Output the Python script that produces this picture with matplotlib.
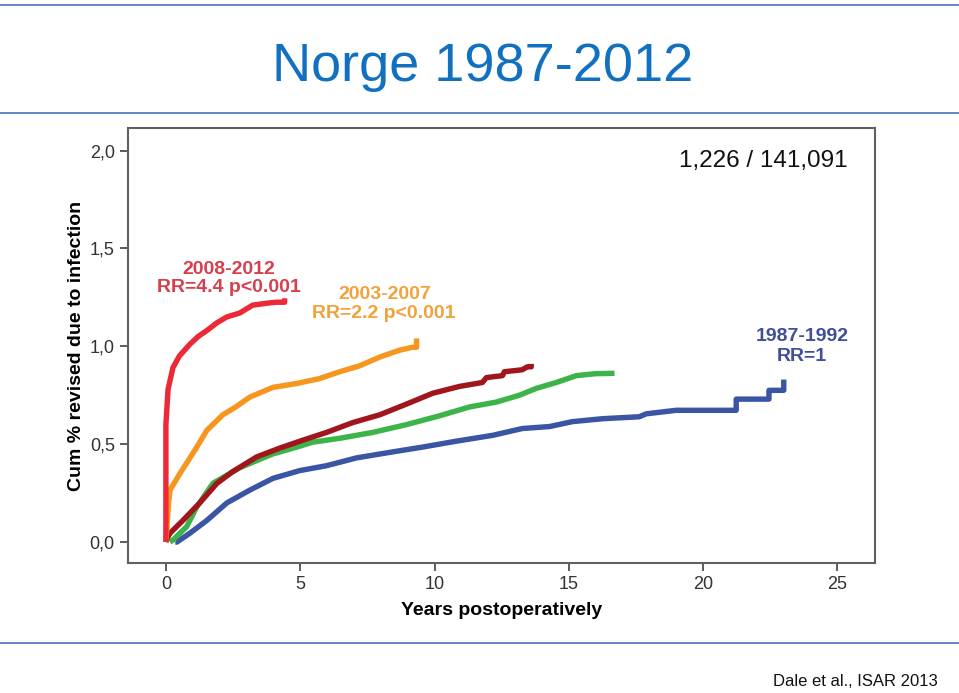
import matplotlib
matplotlib.use("agg")
import matplotlib.pyplot as plt
from matplotlib.lines import Line2D
from matplotlib.ticker import FuncFormatter

# Kaplan-Meier style curves (years, cum % revised)
red_x = [0, 0.0, 0.08, 0.26, 0.5, 0.89, 1.2, 1.52, 1.9, 2.27, 2.75, 3.23, 3.75, 4.1, 4.42, 4.42]
red_y = [0, 0.6, 0.78, 0.89, 0.95, 1.01, 1.05, 1.08, 1.12, 1.15, 1.17, 1.21, 1.22, 1.225, 1.225, 1.245]

orange_x = [0, 0.1, 0.15, 0.52, 0.85, 1.15, 1.52, 2.12, 2.6, 3.12, 3.98, 4.87, 5.72,
            6.47, 7.21, 7.96, 8.7, 9.18, 9.33, 9.33]
orange_y = [0, 0.2, 0.265, 0.35, 0.42, 0.485, 0.57, 0.65, 0.69, 0.74, 0.79, 0.81, 0.835,
            0.87, 0.90, 0.945, 0.98, 0.995, 0.995, 1.04]

darkred_x = [0, 0.05, 0.15, 0.63, 1.26, 1.9, 2.49, 3.38, 4.24, 5.09, 5.98, 6.95, 7.96,
             8.96, 9.93, 10.93, 11.78, 11.93, 12.53, 12.6, 13.27, 13.45, 13.6, 13.6]
darkred_y = [0, 0.02, 0.045, 0.11, 0.2, 0.3, 0.36, 0.435, 0.48, 0.52, 0.56, 0.61, 0.65,
             0.705, 0.76, 0.795, 0.815, 0.84, 0.85, 0.87, 0.88, 0.895, 0.895, 0.91]

green_x = [0.15, 0.26, 0.78, 1.15, 1.75, 2.75, 3.98, 4.87, 5.46, 6.47, 7.7, 8.96, 10.19,
           11.3, 12.3, 13.16, 13.79, 14.53, 15.28, 16.0, 16.7]
green_y = [0, 0.01, 0.08, 0.18, 0.3, 0.38, 0.45, 0.485, 0.51, 0.53, 0.56, 0.6, 0.645,
           0.69, 0.715, 0.75, 0.785, 0.815, 0.85, 0.86, 0.862]

blue_x = [0.35, 0.41, 0.89, 1.52, 2.27, 3.12, 3.98, 4.98, 5.98, 7.1, 8.33, 9.55, 10.8,
          12.16, 13.27, 14.28, 15.13, 16.25, 17.62, 17.88, 19.0, 21.23, 21.23, 22.45,
          22.45, 23.0, 23.0]
blue_y = [0, 0, 0.045, 0.11, 0.2, 0.265, 0.325, 0.365, 0.39, 0.43, 0.458, 0.485, 0.515,
          0.545, 0.58, 0.59, 0.615, 0.63, 0.64, 0.655, 0.673, 0.673, 0.73, 0.73,
          0.775, 0.775, 0.83]

y_ticks = [0, 0.5, 1.0, 1.5, 2.0]
x_ticks = [0, 5, 10, 15, 20, 25]

plt.rcParams['font.family'] = ['Liberation Sans', 'DejaVu Sans']

fig = plt.figure(figsize=(9.59, 6.93), dpi=100)
ax = fig.add_axes([0.1335, 0.1876, 0.779, 0.6277])

lw = 3.9
ax.plot(blue_x, blue_y, color='#3b55a5', lw=lw, solid_capstyle='butt')
ax.plot(green_x, green_y, color='#3cb44a', lw=lw, solid_capstyle='butt')
ax.plot(darkred_x, darkred_y, color='#a1161d', lw=lw, solid_capstyle='butt')
ax.plot(orange_x, orange_y, color='#f7961e', lw=lw, solid_capstyle='butt')
ax.plot(red_x, red_y, color='#ec2a37', lw=lw, solid_capstyle='butt')

ax.set_xlim(-1.41, 26.4)
ax.set_ylim(-0.107, 2.115)
ax.set_xticks(x_ticks)
ax.set_yticks(y_ticks)
ax.yaxis.set_major_formatter(FuncFormatter(lambda v, p: ('%.1f' % v).replace('.', ',')))
for s in ax.spines.values():
    s.set_color('#606060')
    s.set_linewidth(1.5)
ax.tick_params(direction='out', length=6, width=1.2, color='#404040',
               labelsize=13, labelcolor='#333333', top=False, right=False)

ax.set_xlabel('Years postoperatively', fontsize=14, fontweight='bold')
ax.set_ylabel('Cum % revised due to infection', fontsize=14, fontweight='bold')
ax.xaxis.set_label_coords(0.5, -0.09)
ax.yaxis.set_label_coords(-0.057, 0.5)

ax.text(2.34, 1.39, '2008-2012', color='#d63f4d', fontsize=14, fontweight='bold',
        ha='center', va='center')
ax.text(2.34, 1.298, 'RR=4.4 p<0.001', color='#d63f4d', fontsize=14, fontweight='bold',
        ha='center', va='center')
ax.text(8.14, 1.262, '2003-2007', color='#f2a23a', fontsize=14, fontweight='bold',
        ha='center', va='center')
ax.text(8.12, 1.166, 'RR=2.2 p<0.001', color='#f2a23a', fontsize=14, fontweight='bold',
        ha='center', va='center')
ax.text(23.68, 1.05, '1987-1992', color='#3f4f9a', fontsize=14, fontweight='bold',
        ha='center', va='center')
ax.text(23.68, 0.948, 'RR=1', color='#3f4f9a', fontsize=14, fontweight='bold',
        ha='center', va='center')
ax.text(22.23, 1.945, '1,226 / 141,091', color='#111111', fontsize=17.5,
        ha='center', va='center')

fig.text(0.5035, 0.883, 'Norge 1987-2012', color='#1170c0', fontsize=39,
         ha='center', va='baseline')
fig.text(0.8915, 0.0159, 'Dale et al., ISAR 2013', color='#111111', fontsize=12,
         ha='center', va='center')

for yy in [0.9928, 0.837, 0.072]:
    fig.add_artist(Line2D([0, 1], [yy, yy], transform=fig.transFigure,
                          color='#6684c4', lw=1.4))

fig.savefig('out.png', dpi=100)
